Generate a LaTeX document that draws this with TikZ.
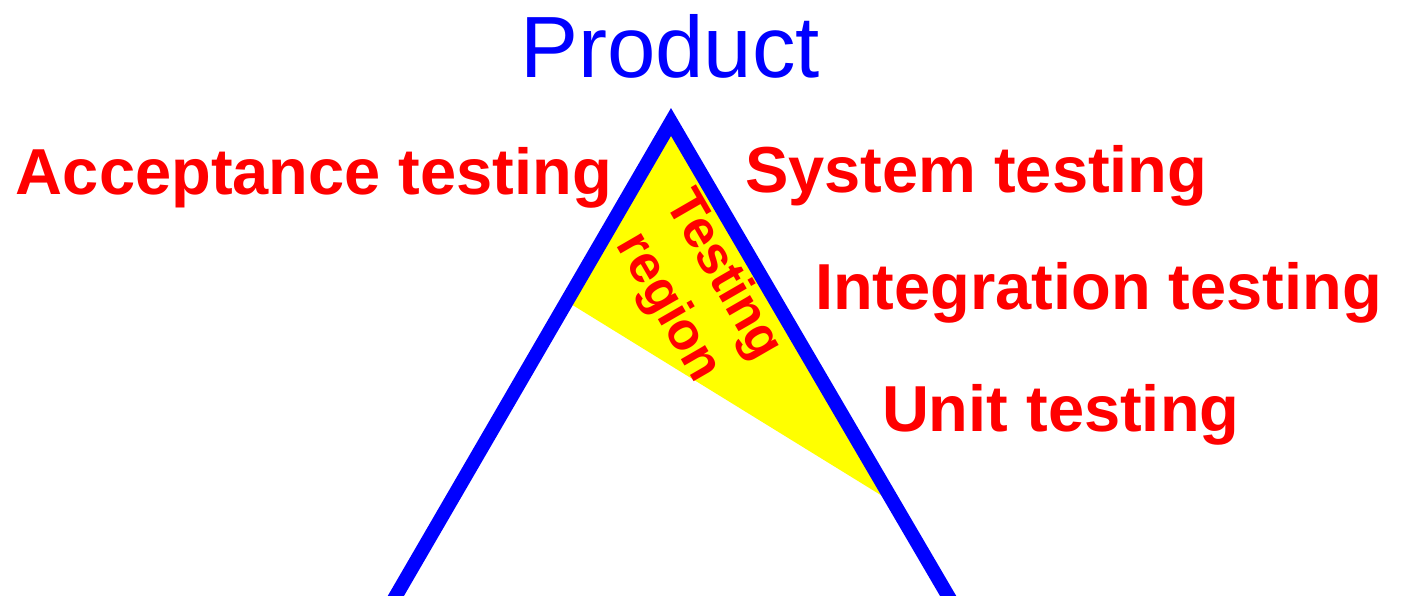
\documentclass[tikz,border=0pt]{standalone}
\usepackage{fontspec}
\setmainfont{Liberation Sans}
\usepackage{tikz}

\begin{document}
\begin{tikzpicture}[x=1pt,y=1pt,
  testLabel/.style={text=textColor,anchor=base west,inner sep=0pt,outer sep=0pt,
    font=\fontsize{65}{70}\selectfont\bfseries},
  vLeg/.style={draw=lineColor,line width=14pt,line join=miter}]
\definecolor[named]{fillColor}{rgb}{1.00,1.00,1.00}
\definecolor[named]{lineColor}{rgb}{0.00,0.00,1.00}
\definecolor[named]{textColor}{rgb}{1.00,0.00,0.00}
\definecolor[named]{regionColor}{rgb}{1.00,1.00,0.00}
\path[use as bounding box,fill=fillColor] (0,0) rectangle (1413,596);
\begin{scope}
\path[clip] (0,0) rectangle (1413,596);
\coordinate (apex) at (671,474);
\coordinate (leftFoot) at (390,-10);
\coordinate (rightFoot) at (954,-10);
\coordinate (regionLeft) at (566,295);
\coordinate (regionRight) at (892,94);

\path[fill=regionColor] (apex) -- (regionLeft) -- (regionRight) -- cycle;

\path[vLeg] (leftFoot) -- (apex) -- (rightFoot);
\end{scope}

\node[text=lineColor,anchor=base,inner sep=0pt,outer sep=0pt,
  font=\fontsize{87}{90}\selectfont] (product) at (670,518) {Product};

\node[testLabel] (acceptance) at ( 16,401) {Acceptance testing};
\node[testLabel] (system) at (745,403) {System testing};
\node[testLabel] (integration) at (815,286) {Integration testing};
\node[testLabel] (unit) at (882,164) {Unit testing};

\node[text=textColor,rotate=-60,align=center,inner sep=0pt,outer sep=0pt,
  font=\fontsize{53}{64}\selectfont\bfseries] (region) at (695,304) {Testing\\region};
\end{tikzpicture}
\end{document}
